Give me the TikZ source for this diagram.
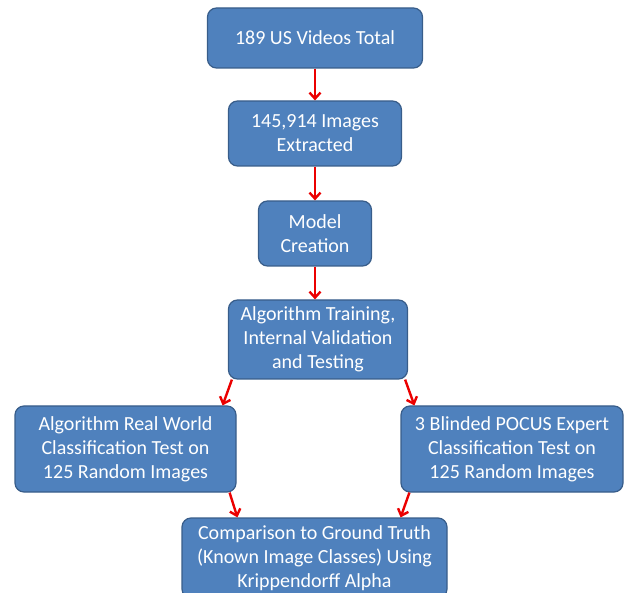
\documentclass[tikz,border=0pt]{standalone}
\usepackage{fontspec}
\setmainfont{Carlito}
\usepackage{tikz}
\usetikzlibrary{arrows.meta,positioning}
\definecolor{boxBlue}{RGB}{79,129,189}
\definecolor{edgeBlue}{RGB}{56,93,138}
\definecolor{arrRed}{RGB}{235,0,0}

\begin{document}
\begin{tikzpicture}[x=1pt, y=-1pt,
  stage/.style={rectangle, rounded corners=9pt, draw=edgeBlue,
                line width=1.2pt, fill=boxBlue, text=white,
                align=center, inner sep=2pt,
                font=\fontsize{20}{24}\selectfont,
                minimum width=#1},
  stage/.default=100pt,
  arr/.style={-{Straight Barb[length=6pt,width=11pt]},
              line width=2.4pt, arrRed}
]
  \clip (0,0) rectangle (624,593);
  \node[stage=215pt, minimum height=60pt] (videos) at (315,38)
    {189 US Videos Total};
  \node[stage=173pt, minimum height=65pt] (images) at (315,133.5)
    {145,914 Images\\Extracted};
  \node[stage=113pt, minimum height=65pt] (model) at (315,233.5)
    {Model\\Creation};
  \node[stage=179pt, minimum height=79pt] (train) at (318,339.5)
    {Algorithm Training,\\Internal Validation\\and Testing};
  \node[stage=221pt, minimum height=86pt] (realworld) at (125.5,449)
    {Algorithm Real World\\Classification Test on\\125 Random Images};
  \node[stage=222pt, minimum height=86pt] (expert) at (512,449)
    {3 Blinded POCUS Expert\\Classification Test on\\125 Random Images};
  \node[stage=265pt, minimum height=80pt] (compare) at (314.5,558)
    {Comparison to Ground Truth\\(Known Image Classes) Using\\Krippendorff Alpha};
  \draw[arr] (videos.south) -- (images.north);
  \draw[arr] (images.south) -- (model.north);
  \draw[arr] (model.south) -- (model.south |- train.north);
  \draw[arr] ([xshift=4pt]train.south west) -- ([xshift=-14pt]realworld.north east);
  \draw[arr] ([xshift=-3pt]train.south east) -- ([xshift=14pt]expert.north west);
  \draw[arr] ([xshift=-7pt]realworld.south east) -- ([xshift=56pt]compare.north west);
  \draw[arr] ([xshift=9pt]expert.south west) -- ([xshift=-47pt]compare.north east);
\end{tikzpicture}
\end{document}
